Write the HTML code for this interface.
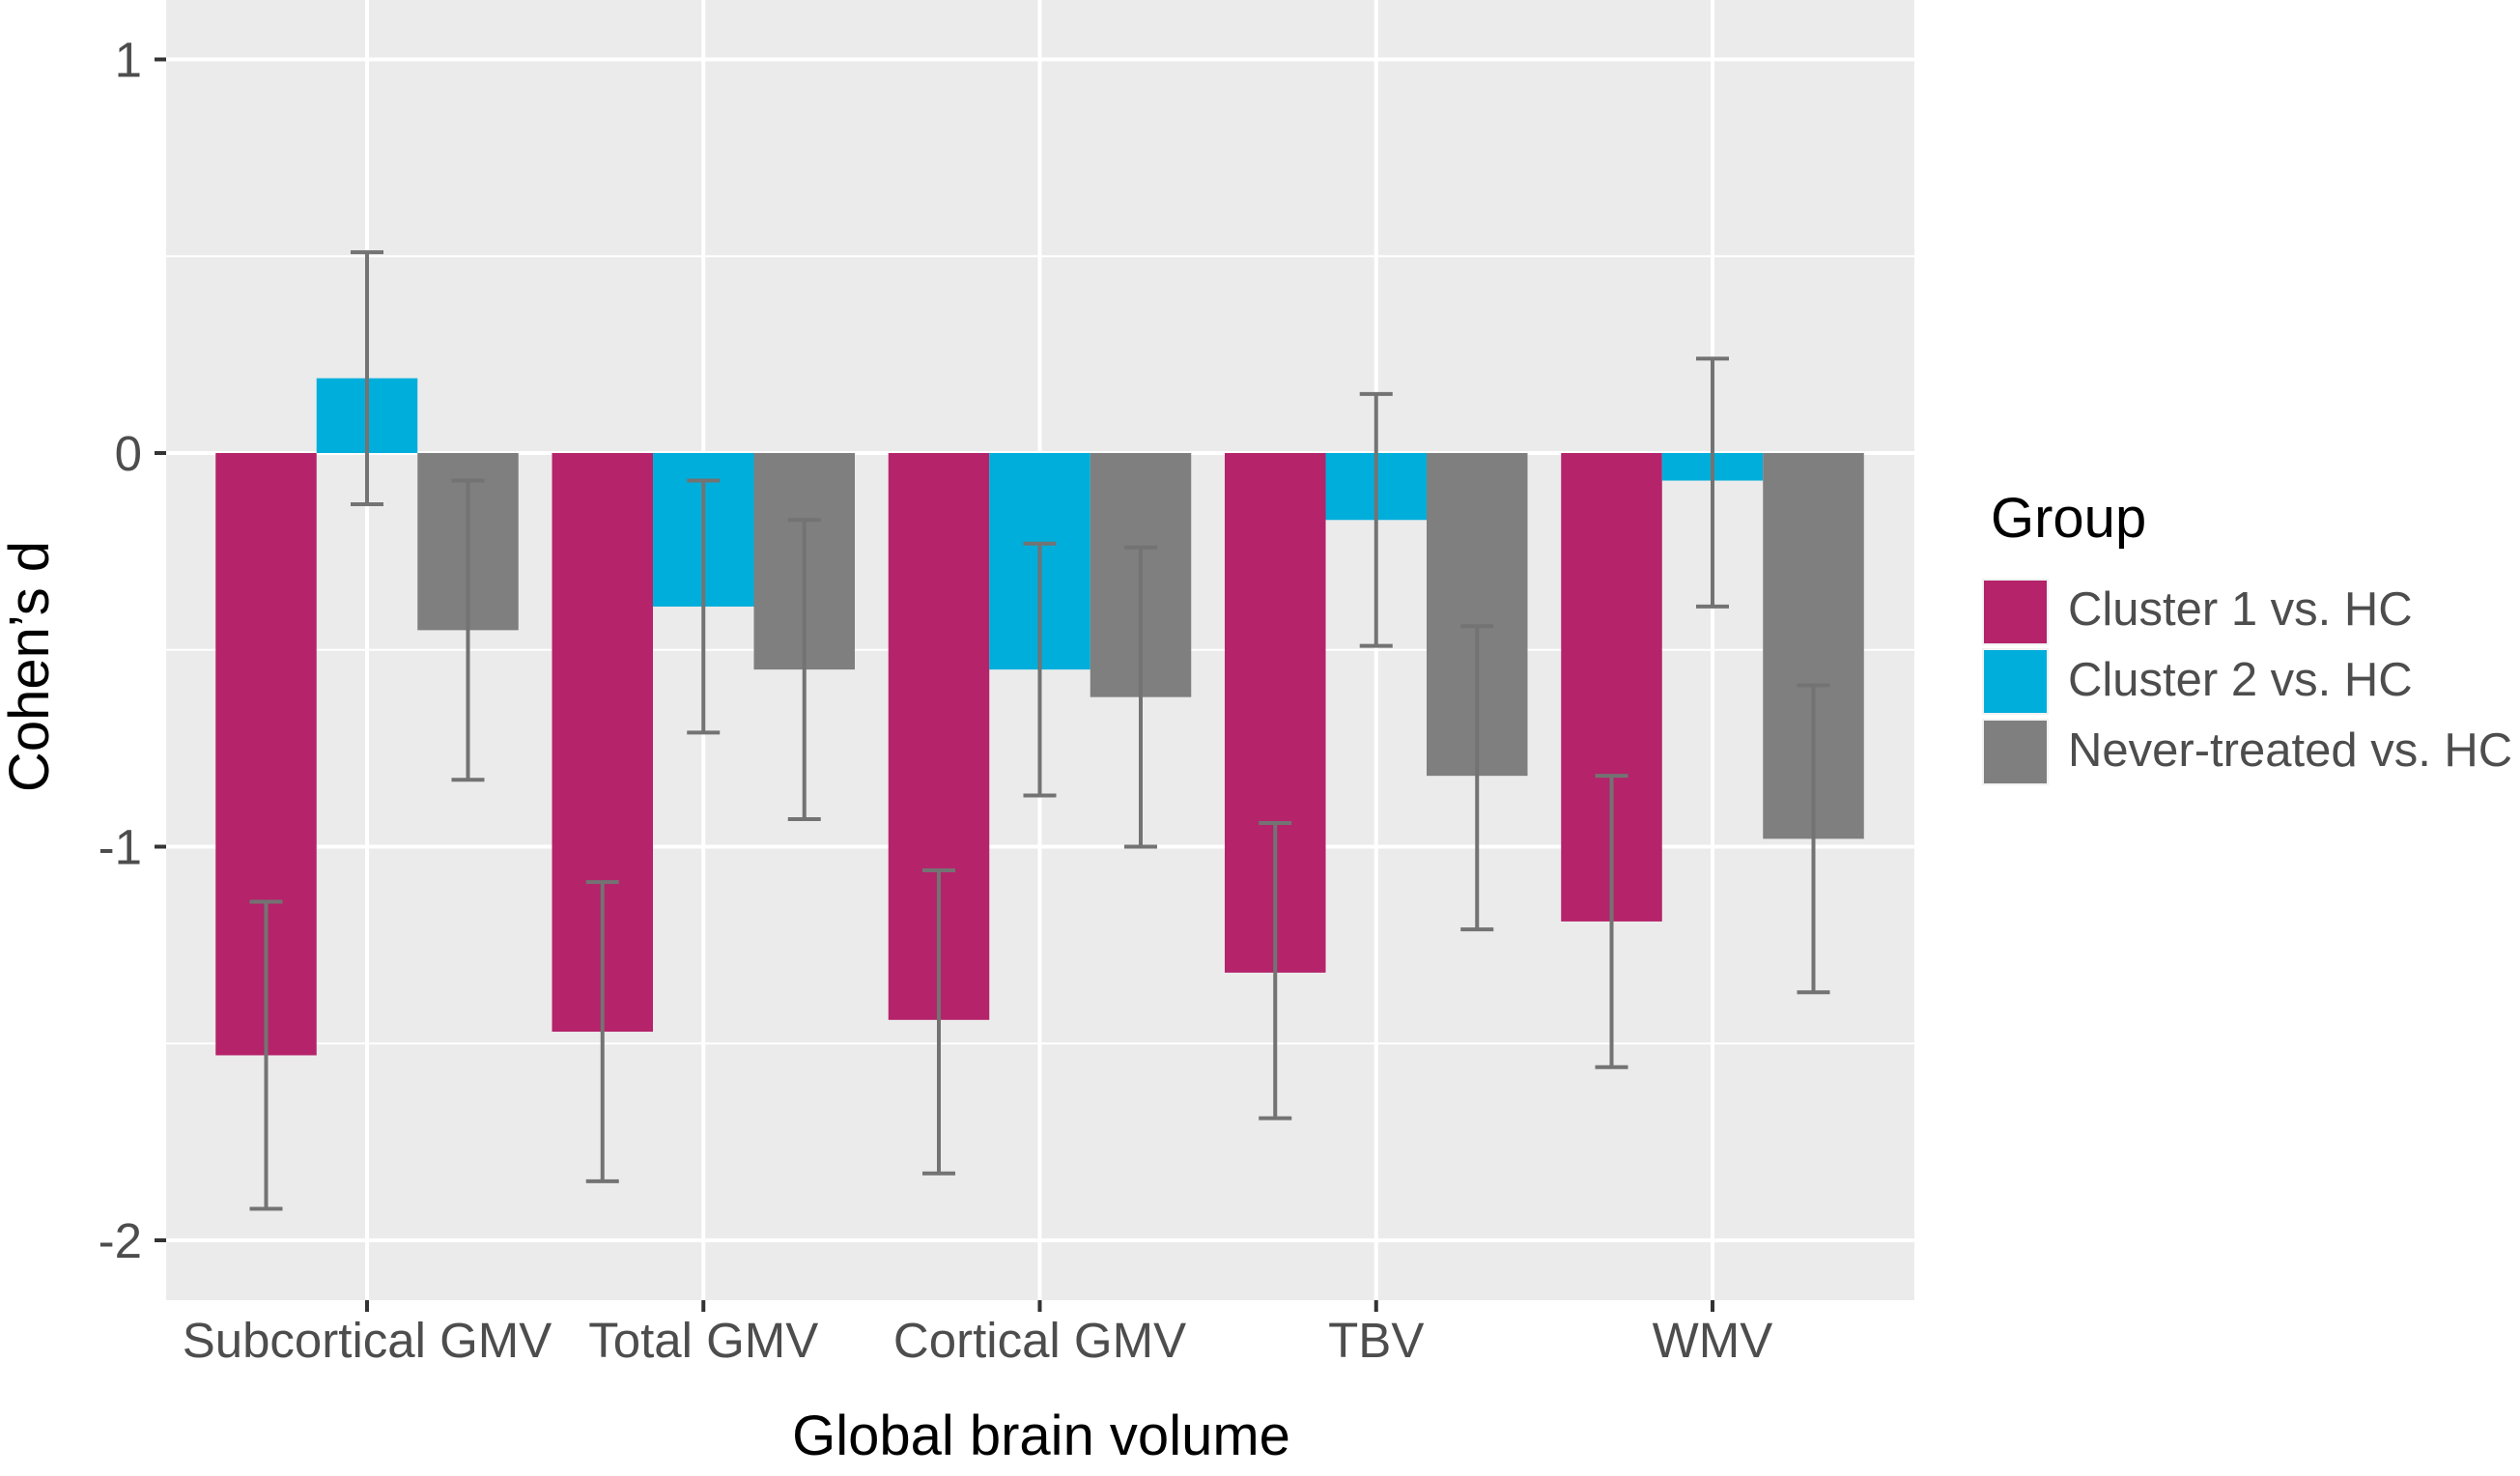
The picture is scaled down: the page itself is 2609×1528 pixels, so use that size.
<!DOCTYPE html>
<html><head><meta charset="utf-8"><style>
html,body{margin:0;padding:0;background:#fff;}
svg{display:block;font-family:"Liberation Sans",Arial,sans-serif;}
</style></head><body>
<svg id="chart" width="2609" height="1528" viewBox="0 0 2609 1528" xmlns="http://www.w3.org/2000/svg">
<rect x="172" y="0" width="1810" height="1346" fill="#ebebeb"/>
<g id="grid"></g>
<g id="bars"></g>
<g id="errs"></g>
<g id="axes"></g>
<text x="1078" y="1506" font-size="58" text-anchor="middle" fill="#000">Global brain volume</text>
<text transform="translate(50,690) rotate(-90)" font-size="58" text-anchor="middle" fill="#000">Cohen’s d</text>
<g>
<text x="2061" y="556" font-size="58" fill="#000">Group</text>
<rect x="2053" y="600" width="67" height="67" fill="#b5236a" stroke="#f2f2f2" stroke-width="2"/>
<rect x="2053" y="672" width="67" height="67" fill="#00aedb" stroke="#f2f2f2" stroke-width="2"/>
<rect x="2053" y="745" width="67" height="67" fill="#7f7f7f" stroke="#f2f2f2" stroke-width="2"/>
<text x="2141" y="647" font-size="49" fill="#4d4d4d">Cluster 1 vs. HC</text>
<text x="2141" y="720" font-size="49" fill="#4d4d4d">Cluster 2 vs. HC</text>
<text x="2141" y="793" font-size="49" fill="#4d4d4d">Never-treated vs. HC</text>
</g>
</svg>
<script>
const categories = ["Subcortical GMV","Total GMV","Cortical GMV","TBV","WMV"];
const groups = ["Cluster 1 vs. HC","Cluster 2 vs. HC","Never-treated vs. HC"];
const cluster1 = [-1.53,-1.47,-1.44,-1.32,-1.19];
const cluster1Hi = [-1.14,-1.09,-1.06,-0.94,-0.82];
const cluster1Lo = [-1.92,-1.85,-1.83,-1.69,-1.56];
const cluster2 = [0.19,-0.39,-0.55,-0.17,-0.07];
const cluster2Hi = [0.51,-0.07,-0.23,0.15,0.24];
const cluster2Lo = [-0.13,-0.71,-0.87,-0.49,-0.39];
const never = [-0.45,-0.55,-0.62,-0.82,-0.98];
const neverHi = [-0.07,-0.17,-0.24,-0.44,-0.59];
const neverLo = [-0.83,-0.93,-1.0,-1.21,-1.37];
const yTicks = [1,0,-1,-2];
const yTickLabels = ["1","0","-1","-2"];
const yMinor = [0.5,-0.5,-1.5];

const NS="http://www.w3.org/2000/svg";
const colors=["#b5236a","#00aedb","#7f7f7f"];
const y=v=>469-v*407.5;
const step=348.25, x0=380;
const x=i=>x0+i*step;
const bw=104.5;
function mk(tag,attrs,parent){const e=document.createElementNS(NS,tag);for(const k in attrs)e.setAttribute(k,attrs[k]);document.getElementById(parent).appendChild(e);return e;}
yMinor.forEach(v=>{
  const l=mk('line',{x1:172,x2:1982,y1:y(v),y2:y(v),stroke:'#fff','stroke-width':2},'grid');
  
  
});
yTicks.forEach((v,i)=>{
  const l=mk('line',{x1:172,x2:1982,y1:y(v),y2:y(v),stroke:'#fff','stroke-width':4},'grid');
  
  
  const t=mk('line',{x1:160,x2:172,y1:y(v),y2:y(v),stroke:'#333','stroke-width':4},'axes');
  
  
  const tx=mk('text',{x:147,y:y(v)+18,'font-size':51,'text-anchor':'end',fill:'#4d4d4d'},'axes');
  tx.textContent=yTickLabels[i];
  
  
});
categories.forEach((c,i)=>{
  const l=mk('line',{x1:x(i),x2:x(i),y1:0,y2:1346,stroke:'#fff','stroke-width':4},'grid');
  
  
  const t=mk('line',{x1:x(i),x2:x(i),y1:1346,y2:1358,stroke:'#333','stroke-width':4},'axes');
  
  
  const tx=mk('text',{x:x(i),y:1405,'font-size':51,'text-anchor':'middle',fill:'#4d4d4d'},'axes');
  tx.textContent=c;
  
  
});
const series=[[cluster1,cluster1Hi,cluster1Lo],[cluster2,cluster2Hi,cluster2Lo],[never,neverHi,neverLo]];
series.forEach((s,g)=>{
  s[0].forEach((v,i)=>{
    const cx=x(i)+(g-1)*bw;
    const top=Math.min(y(v),y(0)), h=Math.abs(y(v)-y(0));
    const r=mk('rect',{x:cx-bw/2,y:top,width:bw,height:h,fill:colors[g]},'bars');
    
    
    const hi=y(s[1][i]), lo=y(s[2][i]);
    const e=mk('path',{d:`M${cx-17},${hi}H${cx+17}M${cx},${hi}V${lo}M${cx-17},${lo}H${cx+17}`,stroke:'#737373','stroke-width':4,fill:'none'},'errs');
    
    
  });
});
</script>
</body></html>
